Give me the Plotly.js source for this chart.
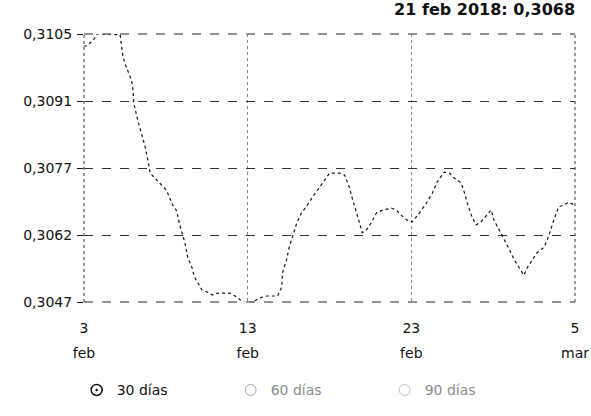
<!DOCTYPE html>
<html><head><meta charset="utf-8">
<script src="https://cdn.plot.ly/plotly-3.0.1.min.js"></script>
<style>html,body{margin:0;padding:0;background:#fff}#c{width:591px;height:416px}</style>
</head><body><div id="c"></div>
<script>
const dates = ['2018-02-03 00:00','2018-02-03 04:00','2018-02-03 09:00','2018-02-03 13:00','2018-02-03 19:00','2018-02-04 14:00','2018-02-05 05:00','2018-02-05 08:00','2018-02-05 09:00','2018-02-05 12:00','2018-02-05 16:00','2018-02-05 22:00','2018-02-06 00:00','2018-02-06 01:00','2018-02-06 07:00','2018-02-06 13:00','2018-02-06 17:00','2018-02-06 22:00','2018-02-07 01:00','2018-02-07 08:00','2018-02-07 18:00','2018-02-08 01:00','2018-02-08 10:00','2018-02-08 16:00','2018-02-08 20:00','2018-02-09 04:00','2018-02-09 08:00','2018-02-09 14:00','2018-02-09 18:00','2018-02-09 23:00','2018-02-10 05:00','2018-02-10 12:00','2018-02-10 21:00','2018-02-11 04:00','2018-02-11 12:00','2018-02-11 22:00','2018-02-12 08:00','2018-02-12 17:00','2018-02-13 00:00','2018-02-13 07:00','2018-02-13 18:00','2018-02-14 04:00','2018-02-14 20:00','2018-02-15 02:00','2018-02-15 03:00','2018-02-15 09:00','2018-02-15 13:00','2018-02-15 18:00','2018-02-16 00:00','2018-02-16 07:00','2018-02-16 14:00','2018-02-16 23:00','2018-02-17 09:00','2018-02-17 17:00','2018-02-18 00:00','2018-02-18 15:00','2018-02-18 22:00','2018-02-19 05:00','2018-02-19 10:00','2018-02-19 16:00','2018-02-19 20:00','2018-02-20 00:00','2018-02-20 06:00','2018-02-20 13:00','2018-02-20 21:00','2018-02-21 06:00','2018-02-21 19:00','2018-02-22 02:00','2018-02-22 09:00','2018-02-22 17:00','2018-02-23 01:00','2018-02-23 12:00','2018-02-23 22:00','2018-02-24 07:00','2018-02-24 14:00','2018-02-25 00:00','2018-02-25 08:00','2018-02-25 15:00','2018-02-26 01:00','2018-02-26 06:00','2018-02-26 10:00','2018-02-26 17:00','2018-02-26 23:00','2018-02-27 06:00','2018-02-27 14:00','2018-02-27 21:00','2018-02-28 01:00','2018-02-28 09:00','2018-02-28 16:00','2018-03-01 00:00','2018-03-01 07:00','2018-03-01 14:00','2018-03-01 21:00','2018-03-02 02:00','2018-03-02 09:00','2018-03-02 16:00','2018-03-03 03:00','2018-03-03 10:00','2018-03-03 17:00','2018-03-04 00:00','2018-03-04 08:00','2018-03-04 15:00','2018-03-04 23:00'];
const rate30 = [0.31024,0.31024,0.31031,0.31035,0.3105,0.3105,0.31048,0.3102,0.31002,0.30987,0.3097,0.30948,0.30927,0.30901,0.30862,0.30831,0.3081,0.30775,0.30749,0.30738,0.30723,0.30712,0.3068,0.30667,0.30639,0.30598,0.30567,0.30546,0.30524,0.30511,0.30496,0.30492,0.30485,0.30489,0.30489,0.30489,0.30481,0.3047,0.30468,0.3047,0.30479,0.30483,0.30483,0.30503,0.30533,0.30561,0.30589,0.30611,0.30641,0.30663,0.30676,0.30697,0.30719,0.30734,0.30749,0.30749,0.30745,0.30719,0.30691,0.30663,0.30641,0.3062,0.30626,0.30641,0.30663,0.30669,0.30673,0.30669,0.30658,0.30648,0.30643,0.30663,0.30684,0.30706,0.3073,0.30751,0.30749,0.30738,0.30728,0.30706,0.30684,0.30654,0.30637,0.30643,0.30658,0.30669,0.30648,0.30626,0.30605,0.30583,0.30561,0.30544,0.30528,0.30544,0.30561,0.30576,0.30589,0.30615,0.30648,0.30676,0.3068,0.30686,0.3068];
const seriesNames = ['30 días','60 días','90 días'];
const yTickVals = [0.3047,0.30615,0.3076,0.30905,0.3105];
const yTickText = ['0,3047','0,3062','0,3077','0,3091','0,3105'];
const xTickVals = ['2018-02-03','2018-02-13','2018-02-23','2018-03-05'];
const xTickDays = ['3','13','23','5'];
const xTickMonths = ['feb','feb','feb','mar'];
const titleText = '21 feb 2018: 0,3068';

const font = {family:'DejaVu Sans, Arial, sans-serif', size:14, color:'#111'};
const xr = ['2018-02-03','2018-03-05'];
const traces = [
  {x:dates, y:rate30, mode:'lines', line:{color:'#111', width:1.2, dash:'dot'}, showlegend:false, legendgroup:'a', hoverinfo:'x+y'},
  {x:[null], y:[null], mode:'markers', name:seriesNames[0], legendgroup:'a', marker:{symbol:'circle-dot', size:11, color:'#fff', line:{color:'#111', width:1.5}}},
  {x:[null], y:[null], mode:'markers', name:seriesNames[1], visible:'legendonly', marker:{symbol:'circle-open', size:11, color:'#555', line:{width:1}}},
  {x:[null], y:[null], mode:'markers', name:seriesNames[2], visible:'legendonly', marker:{symbol:'circle-open', size:11, color:'#888', line:{width:1}}}
];
const frameLine = (x0,y0,x1,y1,dash,color) => ({type:'line', xref:'paper', yref:'paper', x0:x0, y0:y0, x1:x1, y1:y1, line:{color:color, width:1, dash:dash}, layer:'below'});
const layout = {
  width:591, height:416,
  margin:{l:84, r:16, t:34, b:114, autoexpand:false},
  paper_bgcolor:'#fff', plot_bgcolor:'#fff',
  font:font,
  separators:',.',
  title:{text:titleText, x:0.973, xanchor:'right', y:0.99, yanchor:'top', font:{family:'DejaVu Sans, Arial, sans-serif', size:16, color:'#111', weight:'bold'}},
  xaxis:{type:'date', range:xr, tickvals:xTickVals, ticktext:xTickDays, tickfont:font, ticks:'', showline:false, zeroline:false, automargin:false,
    showgrid:true, gridcolor:'#888', griddash:'dot', gridwidth:1, ticklabelstandoff:16},
  xaxis2:{type:'date', range:xr, overlaying:'x', side:'bottom', tickvals:xTickVals, ticktext:xTickMonths, tickfont:font, ticks:'', showgrid:false, showline:false, zeroline:false, automargin:false, ticklabelstandoff:41},
  yaxis:{range:[0.3047,0.3105], tickvals:yTickVals, ticktext:yTickText, tickfont:font, ticks:'outside', ticklen:6, tickcolor:'#111', automargin:false,
    showgrid:true, gridcolor:'#333', griddash:'dash', gridwidth:1, zeroline:false, showline:false, ticklabelstandoff:2},
  shapes:[
    frameLine(0,1,1,1,'dash','#222'),
    frameLine(0,0,1,0,'dash','#222'),
    frameLine(0,0,0,1,'dot','#333'),
    frameLine(1,0,1,1,'dot','#333')
  ],
  legend:{orientation:'h', x:-0.015, xanchor:'left', y:-0.27, yanchor:'top', entrywidth:109, font:font, itemclick:false},
  showlegend:true
};
traces.push({x:[xr[0]], y:[null], xaxis:'x2', mode:'markers', showlegend:false, hoverinfo:'skip'});
Plotly.newPlot('c', traces, layout, {displayModeBar:false, staticPlot:true});
</script></body></html>
